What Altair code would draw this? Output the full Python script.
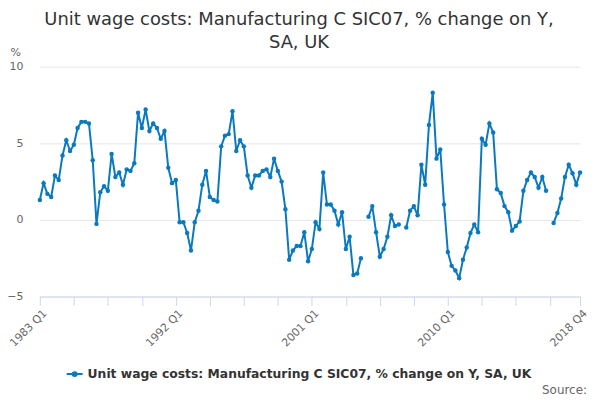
import altair as alt
import pandas as pd

SERIES = "Unit wage costs: Manufacturing C SIC07, % change on Y, SA, UK"
BLUE = "#0a79bf"

years = list(range(1983, 2019))
quarters = [f"{y} Q{q}" for y in years for q in range(1, 5)]

# % change on a year earlier, 1983 Q1 .. 2018 Q4 (None = no value published)
pct_change = [
    1.3, 2.4, 1.7, 1.5, 2.9, 2.6, 4.2, 5.2, 4.5, 4.9,
    6.0, 6.4, 6.4, 6.3, 3.9, -0.26, 1.8, 2.2, 1.9, 4.3,
    2.8, 3.1, 2.3, 3.3, 3.2, 3.7, 7.0, 6.0, 7.2, 5.8,
    6.3, 6.0, 5.3, 5.8, 3.4, 2.4, 2.6, -0.15, -0.15, -0.85,
    -2.0, -0.15, 0.6, 2.3, 3.2, 1.5, 1.3, 1.2, 4.8, 5.5,
    5.6, 7.1, 4.5, 5.2, 4.8, 2.9, 2.1, 2.9, 2.9, 3.2,
    3.3, 2.8, 4.0, 3.2, 2.5, 0.7, -2.6, -2.0, -1.7, -1.7,
    -0.8, -2.7, -1.9, -0.15, -0.6, 3.1, 1.0, 1.0, 0.6, -0.3,
    0.5, -1.9, -1.1, -3.6, -3.5, -2.5, None, 0.2, 0.9, -0.8,
    -2.4, -1.9, -1.1, 0.3, -0.4, -0.3, None, -0.5, 0.6, 0.9,
    0.3, 3.6, 2.3, 6.2, 8.3, 4.0, 4.6, 1.0, -2.1, -3.0,
    -3.3, -3.8, -2.6, -1.8, -0.85, -0.3, -0.8, 5.3, 4.9, 6.3,
    5.7, 2.0, 1.75, 0.9, 0.5, -0.7, -0.4, -0.1, 1.9, 2.6,
    3.1, 2.8, 2.1, 2.8, 1.9, None, -0.2, 0.45, 1.4, 2.8,
    3.6, 3.05, 2.3, 3.1,
]

tick_quarters = quarters[::9] + [quarters[-1]]
labelled = ["1983 Q1", "1992 Q1", "2001 Q1", "2010 Q1", "2018 Q4"]

df = pd.DataFrame({"quarter": quarters, "value": pct_change, "series": SERIES})
source_df = pd.DataFrame({"text": ["Source:"]})

label_list = "[" + ",".join(f"'{q}'" for q in labelled) + "]"

x_enc = alt.X(
    "quarter:O",
    sort=quarters,
    scale=alt.Scale(type="point", padding=0),
    axis=alt.Axis(
        title=None,
        values=tick_quarters,
        labelExpr=f"indexof({label_list}, datum.value) >= 0 ? datum.value : ''",
        labelAngle=-45,
        labelAlign="right",
        labelBaseline="middle",
        labelPadding=6,
        labelOffset=5,
        labelColor="#666666",
        labelFontSize=11,
        domainColor="#ccd6eb",
        tickColor="#ccd6eb",
        tickSize=9,
        grid=False,
    ),
)
y_enc = alt.Y(
    "value:Q",
    scale=alt.Scale(domain=[-5, 10], nice=False, zero=False),
    axis=alt.Axis(
        values=[-5, 0, 5, 10],
        title="%",
        titleAngle=0,
        titleX=-30,
        titleY=-14,
        titleAlign="left",
        titleBaseline="middle",
        titleColor="#666666",
        titleFontSize=11,
        titleFontWeight="normal",
        labelColor="#666666",
        labelFontSize=11,
        labelPadding=17,
        domain=False,
        ticks=False,
        gridColor="#e6e6e6",
    ),
)

legend_symbol = "M-1,0L1,0M-0.25,0a0.25,0.25 0 1,0 0.5,0a0.25,0.25 0 1,0 -0.5,0Z"

color_enc = alt.Color(
    "series:N",
    scale=alt.Scale(range=[BLUE]),
    legend=alt.Legend(
        title=None,
        orient="none",
        legendX=26,
        legendY=300,
        symbolType=legend_symbol,
        symbolSize=256,
        symbolStrokeWidth=2,
        symbolStrokeColor=BLUE,
        symbolFillColor=BLUE,
        labelFont="DejaVu Sans",
        labelFontSize=12.4,
        labelFontWeight="bold",
        labelColor="#333333",
        labelLimit=600,
    ),
)

line = alt.Chart(df).mark_line(strokeWidth=2).encode(x=x_enc, y=y_enc, color=color_enc)
points = alt.Chart(df).mark_point(filled=True, size=20, opacity=1).encode(
    x=x_enc, y=y_enc, color=alt.Color("series:N", legend=None, scale=alt.Scale(range=[BLUE]))
).transform_filter("isValid(datum.value)")

source = alt.Chart(source_df).mark_text(
    align="right", baseline="middle", font="DejaVu Sans",
    fontSize=12, color="#666666"
).encode(text="text:N", x=alt.value(550), y=alt.value(325))

chart = (
    alt.layer(line, points, source)
    .properties(
        width=543,
        height=231,
        autosize=alt.AutoSizeParams(type="none"),
        padding={"left": 32, "top": 58, "right": 12, "bottom": 100},
        title=alt.TitleParams(
            ["Unit wage costs: Manufacturing C SIC07, % change on Y,", "SA, UK"],
            anchor="middle",
            dx=-11,
            offset=-5,
            font="DejaVu Sans",
            fontSize=18,
            fontWeight="normal",
            color="#333333",
            lineHeight=23,
        ),
    )
    .configure(font="DejaVu Sans")
    .configure_view(stroke=None)
    .configure_axis(labelFont="DejaVu Sans", titleFont="DejaVu Sans")
)

chart.save("out.html", embed_options={"renderer": "svg", "actions": False})
